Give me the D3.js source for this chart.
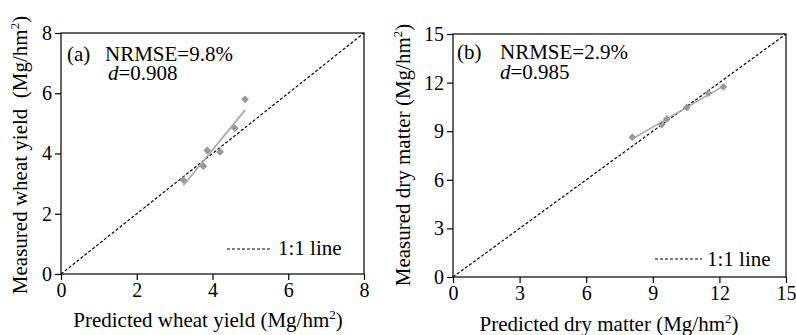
<!DOCTYPE html>
<html><head><meta charset="utf-8">
<script src="https://cdn.jsdelivr.net/npm/d3@7"></script>
<style>
html,body{margin:0;padding:0;background:#fff;}
svg{display:block;}
svg text{font-family:"Liberation Serif","Times New Roman",serif;}
</style></head>
<body><svg id="chart" width="796" height="335"></svg>
<script>
// ---- data ----
const wheatPredicted = [3.23, 3.76, 3.86, 4.20, 4.59, 4.86];
const wheatMeasured  = [3.12, 3.58, 4.10, 4.05, 4.84, 5.80];
const dryPredicted   = [8.08, 9.40, 9.63, 10.53, 11.50, 12.18];
const dryMeasured    = [8.62, 9.41, 9.76, 10.47, 11.35, 11.74];
const wheatTicks = [0, 2, 4, 6, 8];
const dryTicks   = [0, 3, 6, 9, 12, 15];
const panelLabels = ["(a)", "(b)"];
const nrmseTexts  = ["NRMSE=9.8%", "NRMSE=2.9%"];
const dTexts      = ["=0.908", "=0.985"];
const xTitles = ["Predicted wheat yield (Mg/hm", "Predicted dry matter (Mg/hm"];
const yTitles = ["Measured wheat yield\u00a0\u00a0(Mg/hm", "Measured dry matter (Mg/hm"];
const legendText = "1:1 line";

const FONT = "Liberation Serif, Times New Roman, serif";
const svg = d3.select("#chart");

const panels = [
  {px: wheatPredicted, py: wheatMeasured, ticks: wheatTicks, max: 8,
   x0: 61, x1: 364, y0: 274, y1: 33,
   xTitleX: 208, xTitleY: 327, yTitleX: 27, yTitleY: 155,
   annX: 67, annNX: 105, annY: 61, dX: 108, dY: 80,
   legX0: 227, legX1: 272, legY: 249, legTX: 278, legTY: 255},
  {px: dryPredicted, py: dryMeasured, ticks: dryTicks, max: 15,
   x0: 453, x1: 786, y0: 277, y1: 34,
   xTitleX: 609, xTitleY: 331, yTitleX: 410, yTitleY: 155,
   annX: 457, annNX: 500, annY: 59, dX: 500, dY: 79,
   legX0: 655, legX1: 702, legY: 259, legTX: 707, legTY: 266}
];

panels.forEach((p, i) => {
  const x = d3.scaleLinear().domain([0, p.max]).range([p.x0, p.x1]);
  const y = d3.scaleLinear().domain([0, p.max]).range([p.y0, p.y1]);
  const g = svg.append("g").attr("font-family", FONT);

  // axes
  const ax = g.append("g").attr("transform", `translate(0,${p.y0})`)
    .call(d3.axisBottom(x).tickValues(p.ticks).tickSize(6).tickSizeOuter(0).tickPadding(3));
  const ay = g.append("g").attr("transform", `translate(${p.x0},0)`)
    .call(d3.axisLeft(y).tickValues(p.ticks).tickSize(6).tickSizeOuter(0).tickPadding(3));
  [ax, ay].forEach(a => {
    a.attr("font-family", FONT).attr("font-size", 20);
    a.selectAll("text").attr("font-family", FONT).attr("font-size", 20).attr("fill", "#000");
    a.selectAll("line").attr("stroke", "#000").attr("stroke-width", 1.2);
    a.select(".domain").remove();
  });

  // frame
  g.append("rect").attr("x", p.x0).attr("y", p.y1)
    .attr("width", p.x1 - p.x0).attr("height", p.y0 - p.y1)
    .attr("fill", "none").attr("stroke", "#000").attr("stroke-width", 1.2);

  // 1:1 line
  g.append("line")
    .attr("x1", x(0)).attr("y1", y(0)).attr("x2", x(p.max)).attr("y2", y(p.max))
    .attr("stroke", "#000").attr("stroke-width", 1.2).attr("stroke-dasharray", "3,2");

  // regression line
  const mx = d3.mean(p.px), my = d3.mean(p.py);
  const sxy = d3.sum(p.px.map((v, k) => (v - mx) * (p.py[k] - my)));
  const sxx = d3.sum(p.px.map(v => (v - mx) * (v - mx)));
  const slope = sxy / sxx, icpt = my - slope * mx;
  const [xa, xb] = d3.extent(p.px);
  g.append("line")
    .attr("x1", x(xa)).attr("y1", y(icpt + slope * xa))
    .attr("x2", x(xb)).attr("y2", y(icpt + slope * xb))
    .attr("stroke", "#a6a6a6").attr("stroke-width", 1.6);

  // points
  const diamond = d3.symbol().type(d3.symbolSquare).size(30);
  g.selectAll("path.pt").data(p.px).join("path").attr("class", "pt")
    .attr("d", diamond())
    .attr("transform", (d, k) => `translate(${x(d)},${y(p.py[k])}) rotate(45)`)
    .attr("fill", "#999");

  // annotations
  g.append("text").attr("x", p.annX).attr("y", p.annY).attr("font-size", 21).text(panelLabels[i]);
  g.append("text").attr("x", p.annNX).attr("y", p.annY).attr("font-size", 21).text(nrmseTexts[i]);
  const dt = g.append("text").attr("x", p.dX).attr("y", p.dY).attr("font-size", 21);
  dt.append("tspan").attr("font-style", "italic").text("d");
  dt.append("tspan").text(dTexts[i]);

  // legend
  g.append("line").attr("x1", p.legX0).attr("x2", p.legX1).attr("y1", p.legY).attr("y2", p.legY)
    .attr("stroke", "#000").attr("stroke-width", 1.2).attr("stroke-dasharray", "3,2");
  g.append("text").attr("x", p.legTX).attr("y", p.legTY).attr("font-size", 21).text(legendText);

  // axis titles
  const xt = g.append("text").attr("x", p.xTitleX).attr("y", p.xTitleY)
    .attr("text-anchor", "middle").attr("font-size", 21);
  xt.append("tspan").text(xTitles[i]);
  xt.append("tspan").attr("font-size", 13).attr("dy", -8).text("2");
  xt.append("tspan").attr("dy", 8).text(")");

  const yt = g.append("text")
    .attr("transform", `translate(${p.yTitleX},${p.yTitleY}) rotate(-90)`)
    .attr("text-anchor", "middle").attr("font-size", 21);
  yt.append("tspan").text(yTitles[i]);
  yt.append("tspan").attr("font-size", 13).attr("dy", -8).text("2");
  yt.append("tspan").attr("dy", 8).text(")");
});
</script></body></html>
